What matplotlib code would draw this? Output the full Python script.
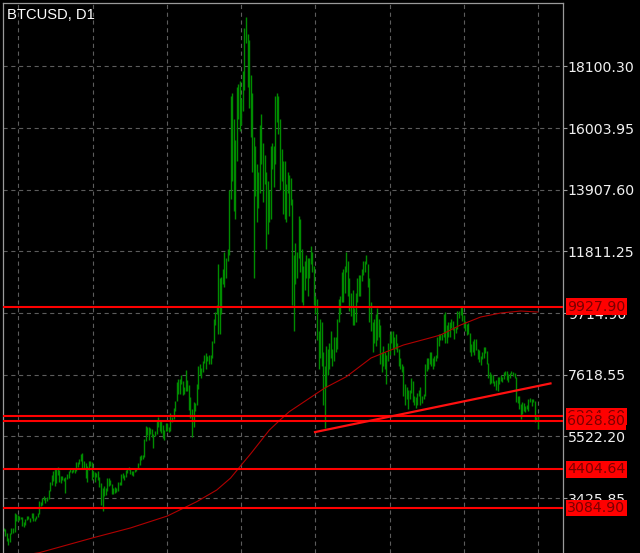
import numpy as np
import pandas as pd
import matplotlib
matplotlib.use("Agg")
import matplotlib.pyplot as plt
import matplotlib.transforms as mtransforms

# BTCUSD daily bars, 13 Jul 2017 .. 24 Jun 2018 (high / low)
high_jul = [2420, 2380, 2240, 2050, 2240, 2390, 2400, 2900, 2880, 2860, 2820, 2780, 2770, 2610, 2700,
            2820, 2800, 2760, 2900]
low_jul = [2310, 2150, 1960, 1830, 1920, 2200, 2240, 2260, 2630, 2640, 2680, 2700, 2480, 2450, 2520,
           2690, 2700, 2620, 2730]
high_aug = [2930, 2760, 2810, 2900, 3330, 3290, 3420, 3490, 3430, 3450, 3700, 3970, 4200, 4330, 4400, 4400,
            4480, 4370, 4190, 4170, 4090, 4130, 4250, 4350, 4460, 4370, 4400, 4400, 4640, 4640, 4760]
low_aug = [2650, 2650, 2700, 2780, 2870, 3150, 3200, 3350, 3250, 3330, 3400, 3650, 3870, 3990, 3850, 3950,
           4200, 3980, 3950, 4040, 3990, 3600, 4080, 4100, 4300, 4290, 4320, 4270, 4360, 4480, 4580]
high_sep = [4920, 4950, 4700, 4600, 4510, 4670, 4680, 4660, 4350, 4320, 4290, 4350, 4130, 3920, 3760,
            3830, 3760, 4120, 4110, 4050, 3900, 3750, 3800, 3780, 3960, 3970, 4230, 4260, 4200, 4370]
low_sep = [4700, 4450, 4430, 4100, 3960, 4380, 4500, 4050, 4150, 3960, 4140, 4050, 3800, 3200, 2970,
           3510, 3530, 3680, 3850, 3860, 3570, 3550, 3580, 3640, 3670, 3860, 3880, 4120, 4030, 4150]
high_oct = [4400, 4470, 4440, 4340, 4360, 4420, 4460, 4620, 4870, 4900, 4880, 5440, 5860, 5840, 5850, 5790,
            5770, 5590, 5720, 6070, 6190, 6060, 6040, 5900, 5740, 5970, 5990, 5850, 6300, 6190, 6470]
low_oct = [4260, 4370, 4230, 4200, 4160, 4320, 4330, 4430, 4560, 4730, 4760, 4820, 5380, 5560, 5400, 5600,
           5500, 5110, 5550, 5610, 5850, 5720, 5650, 5470, 5400, 5720, 5720, 5680, 5690, 6010, 6100]
high_nov = [6740, 7360, 7460, 7490, 7600, 7400, 7200, 7780, 7450, 7270, 6850, 6460, 6700, 6670, 7300,
            7900, 8000, 7850, 8100, 8300, 8370, 8270, 8300, 8300, 8770, 9500, 9740, 10000, 11400, 10900]
low_nov = [6380, 6730, 6950, 6980, 7300, 6930, 6960, 7060, 7060, 6420, 6150, 5500, 5850, 6400, 6600,
           7120, 7600, 7500, 7700, 8030, 7830, 8100, 8000, 8000, 8200, 8700, 9310, 9680, 9000, 9000]
high_dec = [10950, 11200, 11800, 11600, 11900, 13900, 17100, 17200, 16300, 15600, 17400, 17500, 17600,
            17000, 17950, 19400, 19800, 19200, 19000, 17800, 17200, 15700, 15400, 14800, 14500, 16100,
            16500, 15500, 15100, 14500, 14200]
low_dec = [9680, 10700, 10600, 10900, 11500, 11700, 13600, 14200, 13200, 12900, 14900, 16300, 15900,
           16100, 16600, 17300, 18900, 17400, 16700, 15700, 14500, 10900, 13700, 12800, 13300, 13800,
           14800, 13500, 14100, 11900, 12400]
high_jan = [13900, 15400, 15500, 15400, 17100, 17200, 17100, 16300, 15300, 14900, 14900, 14100, 14500,
            14400, 14300, 13600, 11700, 12100, 11800, 13000, 12900, 11900, 11300, 11500, 11700, 11600,
            11600, 12000, 11800, 11300, 10300]
low_jan = [12800, 12900, 14600, 14000, 14800, 16200, 15800, 13900, 14200, 13100, 12900, 12800, 13800,
           13000, 13400, 10000, 9100, 10700, 10900, 11600, 11100, 10100, 10000, 10500, 10900, 10300,
           10900, 11400, 11100, 10000, 9700]
high_feb = [10200, 9100, 9500, 9400, 8400, 7900, 8600, 8500, 8700, 9100, 8500, 8900, 8900, 9500, 10200,
            10300, 11100, 11200, 11300, 11800, 11500, 10900, 10400, 10500, 9900, 10400, 10900, 11000]
low_feb = [8800, 7800, 8200, 7900, 6600, 5800, 7200, 7600, 7800, 8200, 7900, 8100, 8400, 8500, 9400,
           9700, 10100, 10100, 10400, 11100, 10300, 9800, 9600, 9300, 9300, 9400, 10100, 10300]
high_mar = [11000, 11200, 11500, 11500, 11700, 11400, 10900, 10100, 9400, 9500, 9700, 9900, 9500, 9300,
            8400, 8600, 8400, 8300, 8700, 9000, 9100, 9100, 8900, 9000, 8700, 8500, 8200, 8000, 7900,
            7300, 7200]
low_mar = [10300, 10800, 11000, 11100, 11400, 10600, 9400, 9100, 8400, 8700, 8600, 8800, 8900, 8000,
           7700, 7900, 7800, 7300, 8100, 8300, 8700, 8500, 8300, 8500, 8400, 7900, 7800, 7700, 6900,
           6600, 6800]
high_apr = [7100, 7100, 7500, 7400, 6900, 6850, 7000, 7100, 7200, 6900, 6980, 8000, 8200, 8200, 8400,
            8400, 8200, 8250, 8300, 8900, 9000, 9000, 9000, 9700, 9750, 9300, 9400, 9400, 9500, 9450]
low_apr = [6450, 6800, 7000, 6700, 6600, 6500, 6600, 6900, 6600, 6650, 6800, 6900, 7750, 7800, 8000,
           7900, 7800, 7900, 8100, 8200, 8600, 8800, 8800, 8900, 8700, 8700, 8900, 8900, 9200, 9150]
high_may = [9250, 9250, 9800, 9800, 9950, 9950, 9650, 9450, 9350, 9380, 9050, 8650, 8750, 8850, 8850,
            8500, 8450, 8260, 8380, 8570, 8550, 8420, 8030, 7720, 7650, 7620, 7400, 7450, 7550, 7550, 7600]
low_may = [8850, 9050, 9180, 9550, 9650, 9450, 9200, 9100, 8980, 9000, 8400, 8250, 8400, 8300, 8450,
           8150, 8050, 7950, 8150, 8200, 8350, 7970, 7500, 7300, 7350, 7330, 7250, 7100, 7070, 7300, 7400]
high_jun = [7550, 7700, 7760, 7750, 7650, 7690, 7750, 7700, 7670, 7540, 6880, 6890, 6620, 6680, 6650,
            6540, 6580, 6800, 6820, 6800, 6800, 6720, 6180, 6250]
low_jun = [7360, 7480, 7600, 7450, 7380, 7500, 7630, 7560, 7510, 6700, 6650, 6450, 6120, 6290, 6400,
           6350, 6440, 6400, 6680, 6560, 6700, 6000, 6050, 5780]

high = (high_jul + high_aug + high_sep + high_oct + high_nov + high_dec + high_jan + high_feb
        + high_mar + high_apr + high_may + high_jun)
low = (low_jul + low_aug + low_sep + low_oct + low_nov + low_dec + low_jan + low_feb
       + low_mar + low_apr + low_may + low_jun)
start = pd.Timestamp("2017-07-13")
dates = pd.date_range(start, periods=len(high), freq="D")

# moving average
ma_dates = ["2017-07-13", "2017-08-05", "2017-09-09", "2017-10-03", "2017-10-27", "2017-11-15",
            "2017-11-28", "2017-12-07", "2017-12-13", "2017-12-20", "2017-12-26", "2018-01-01",
            "2018-01-08", "2018-01-14", "2018-02-06", "2018-02-20", "2018-03-08", "2018-03-18",
            "2018-03-29", "2018-04-15", "2018-04-22", "2018-05-05", "2018-05-18", "2018-05-31",
            "2018-06-13", "2018-06-24"]
ma_values = [1380, 1566, 2076, 2406, 2814, 3300, 3698, 4106, 4490, 4930, 5330, 5730, 6078, 6361, 7167,
             7551, 8187, 8401, 8629, 8867, 8969, 9309, 9581, 9717, 9785, 9751]

# horizontal levels and trend line
levels = [9927.90, 6204.60, 6028.80, 4404.64, 3084.90]
trend_dates = ["2018-01-30", "2018-07-03"]
trend_values = [5660, 7330]

price_ticks = [3425.85, 5522.20, 7618.55, 9714.90, 11811.25, 13907.60, 16003.95, 18100.30]


def day_index(d):
    return (pd.to_datetime(d) - start).days


plt.rcParams["lines.scale_dashes"] = False
fig = plt.figure(figsize=(6.4, 5.53), dpi=100, facecolor="black")
ax = fig.add_axes([3 / 640, 0, 560 / 640, 550 / 553], facecolor="black")

x = np.arange(len(dates))
ax.vlines(x, low, high, color="#008c00", linewidth=1.0, zorder=2)
ax.plot(day_index(ma_dates), ma_values, color="#b00000", linewidth=0.8, zorder=3)

for lv in levels:
    ax.axhline(lv, color="#ff0000", linewidth=1.5, zorder=4)
ax.plot(day_index(trend_dates), trend_values, color="#ff1010", linewidth=1.6, zorder=4,
        solid_capstyle="butt")

ax.set_xlim(-0.5, 362.4)
ax.set_ylim(1555.9, 20259.7)

# grid
ax.set_xticks(9.5 + 48.1 * np.arange(8))
ax.set_yticks(price_ticks)
ax.set_yticklabels(["%.2f" % t for t in price_ticks])
ax.grid(True, color="#5c5c5c", linewidth=0.8, linestyle=(0, (3.0, 2.6)), zorder=1)
ax.set_axisbelow(True)
ax.tick_params(axis="x", length=0, labelbottom=False)
ax.yaxis.tick_right()
ax.tick_params(axis="y", colors="#9a9a9a", length=3, width=0.8, pad=0.5,
               labelcolor="#f0f0f0", labelsize=10.2)

for side in ["left", "top", "right"]:
    ax.spines[side].set_color("#9a9a9a")
    ax.spines[side].set_linewidth(0.9)
ax.spines["bottom"].set_visible(False)

# price labels of the horizontal levels
trans = mtransforms.blended_transform_factory(ax.transAxes, ax.transData)
for lv in levels:
    ax.text(1 + 4 / 560, lv, "%.2f" % lv, transform=trans, ha="left", va="center",
            color="#7a0000", fontsize=10.2, clip_on=False, zorder=10,
            bbox=dict(boxstyle="square,pad=0.1", facecolor="#ff0000", edgecolor="none"))

fig.text(7 / 640, 1 - 15 / 553, "BTCUSD, D1", color="white", fontsize=10.6,
         family="Liberation Sans", va="center", ha="left")

fig.savefig("out.png", dpi=100, facecolor="black")
